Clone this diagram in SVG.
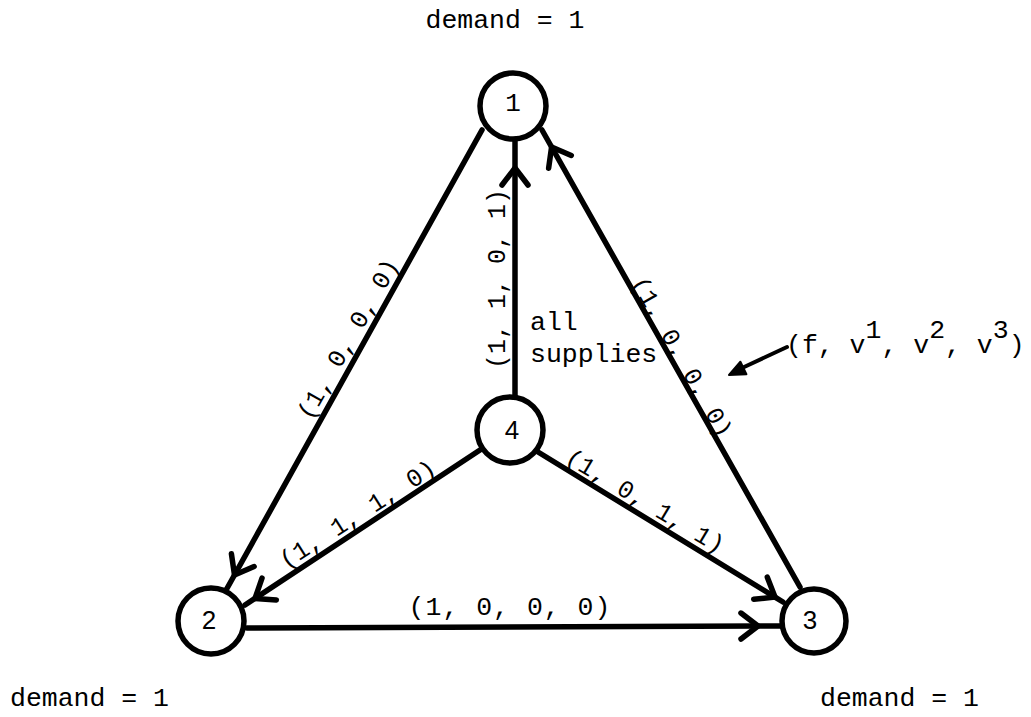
<svg xmlns="http://www.w3.org/2000/svg" width="1031" height="717" viewBox="0 0 1031 717">
<style>
.edge{fill:none;stroke:#000;stroke-width:5.5;stroke-linecap:round;marker-mid:url(#chev)}
.node circle{fill:#fff;stroke:#000;stroke-width:5.5}
.num{font-family:"Liberation Sans",Arial,sans-serif;font-size:26px;text-anchor:middle;dominant-baseline:central;fill:#000}
.tw{font-family:"Liberation Mono","Courier New",monospace;font-size:26.5px;fill:#000}
.lbl{font-family:"Liberation Mono","Courier New",monospace;font-size:25px;fill:#000;text-anchor:middle}
</style>
<defs>
<marker id="chev" markerUnits="userSpaceOnUse" markerWidth="44" markerHeight="44" viewBox="-22 -22 44 44" refX="0" refY="0" orient="auto">
<path d="M-17,-13 L0,0 L-17,13" fill="none" stroke="#000" stroke-width="5.5" stroke-linecap="round" stroke-linejoin="round"/>
</marker>
</defs>
<rect width="1031" height="717" fill="#fff"/>
<g id="connectors">
<polyline id="e12" class="edge" points="482,130 234.5,575 225,592"/>
<polyline id="e41" class="edge" points="515,397 515,168 515,141"/>
<polyline id="e31" class="edge" points="800,587 551.6,147 542,130"/>
<polyline id="e42" class="edge" points="480,450 255,598.4 245,605"/>
<polyline id="e43" class="edge" points="538,452 775,597.1 783,602"/>
<polyline id="e23" class="edge" points="247,628 758,626 780,626"/>
</g>
<g id="node1" class="node"><circle cx="513" cy="106" r="33"/><text class="num" x="513" y="104" style="font-family:'Liberation Mono',monospace">1</text></g>
<g id="node2" class="node"><circle cx="211" cy="621" r="33"/><text class="num" x="209" y="620">2</text></g>
<g id="node3" class="node"><circle cx="814" cy="621" r="32"/><text class="num" x="810" y="620">3</text></g>
<g id="node4" class="node"><circle cx="510" cy="430" r="33"/><text class="num" x="512" y="430">4</text></g>
<g id="labels">
<text class="lbl" transform="translate(355,343) rotate(-60.5)">(1, 0, 0, 0)</text>
<text class="lbl" transform="translate(505,279) rotate(-90)">(1, 1, 0, 1)</text>
<text class="lbl" transform="translate(675,361) rotate(60.6)">(1, 0, 0, 0)</text>
<text class="lbl" transform="translate(362,521) rotate(-32.5)">(1, 1, 1, 0)</text>
<text class="lbl" transform="translate(641,508) rotate(30.8)">(1, 0, 1, 1)</text>
<text class="lbl" x="510" y="615" style="font-size:26.5px;letter-spacing:1px">(1, 0, 0, 0)</text>
<text class="tw" x="530" y="330">all</text>
<text class="tw" x="530" y="362">supplies</text>
<text class="tw" x="505" y="28" text-anchor="middle">demand = 1</text>
<text class="tw" x="10" y="706">demand = 1</text>
<text class="tw" x="820" y="706">demand = 1</text>
<text class="tw" x="786" y="353">(f, v<tspan dy="-15">1</tspan><tspan dy="15">, v</tspan><tspan dy="-15">2</tspan><tspan dy="15">, v</tspan><tspan dy="-15">3</tspan><tspan dy="15">)</tspan></text>
</g>
<g id="pointer">
<line x1="787" y1="347" x2="742" y2="368" stroke="#000" stroke-width="4" stroke-linecap="round"/>
<polygon points="729,375 746.4,374.3 740.4,361.7" fill="#000" stroke="#000" stroke-width="2" stroke-linejoin="round"/>
</g>
</svg>
